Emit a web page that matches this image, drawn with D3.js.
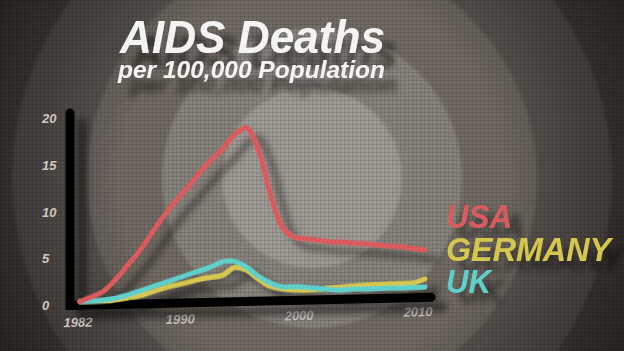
<!DOCTYPE html>
<html>
<head>
<meta charset="utf-8">
<script src="https://cdn.jsdelivr.net/npm/d3@7"></script>
<style>
  html, body { margin: 0; padding: 0; background: #2a2622; }
  svg { display: block; }
</style>
</head>
<body>
<div id="chart"></div>
<script>
// ---------- data ----------
const years = [1982, 1983, 1984, 1985, 1986, 1987, 1988, 1989, 1990, 1991,
               1992, 1993, 1994, 1995, 1996, 1997, 1998, 1999, 2000, 2001,
               2002, 2003, 2004, 2005, 2006, 2007, 2008, 2009, 2010, 2011];
const usa = [0.0, 0.5, 1.1, 2.3, 3.8, 5.3, 7.1, 8.9, 10.5, 11.9,
             13.4, 14.8, 16.0, 17.5, 18.2, 15.8, 11.1, 7.5, 6.4, 6.2,
             6.0, 5.8, 5.75, 5.6, 5.5, 5.35, 5.2, 5.1, 4.9, 4.7];
const germany = [0.0, 0.0, 0.02, 0.1, 0.3, 0.5, 0.87, 1.25, 1.55, 1.8,
                 2.1, 2.3, 2.5, 3.3, 3.0, 2.0, 1.2, 0.9, 0.74, 0.7,
                 0.74, 0.87, 0.94, 1.03, 1.1, 1.12, 1.14, 1.18, 1.2, 1.6];
const uk = [0.0, 0.05, 0.13, 0.3, 0.6, 1.0, 1.4, 1.8, 2.2, 2.6,
            3.0, 3.4, 3.95, 3.95, 3.3, 2.3, 1.55, 1.1, 1.1, 1.0,
            0.85, 0.7, 0.62, 0.7, 0.67, 0.7, 0.72, 0.7, 0.72, 0.74];
const seriesNames = ["USA", "GERMANY", "UK"];
const seriesColors = ["#db5a5d", "#d5c74d", "#5ecfcb"];
const yTicks = [0, 5, 10, 15, 20];
const xTicks = [1982, 1990, 2000, 2010];
const title = "AIDS Deaths";
const subtitle = "per 100,000 Population";

// ---------- setup ----------
const W = 624, H = 351;
const svg = d3.select("#chart").append("svg").attr("width", W).attr("height", H);
const defs = svg.append("defs");

// vignette gradient
const rg = defs.append("radialGradient").attr("id", "vig")
  .attr("cx", 312).attr("cy", 178).attr("r", 420).attr("gradientUnits", "userSpaceOnUse");
rg.append("stop").attr("offset", "0.45").attr("stop-color", "#000").attr("stop-opacity", 0);
rg.append("stop").attr("offset", "0.8").attr("stop-color", "#0a0604").attr("stop-opacity", 0.45);
rg.append("stop").attr("offset", "1").attr("stop-color", "#0a0604").attr("stop-opacity", 0.75);

// fine canvas texture
const pat = defs.append("pattern").attr("id", "tex").attr("width", 4).attr("height", 4)
  .attr("patternUnits", "userSpaceOnUse");
pat.append("rect").attr("width", 4).attr("height", 1).attr("fill", "rgba(0,0,0,0.10)");
pat.append("rect").attr("width", 1).attr("height", 4).attr("fill", "rgba(0,0,0,0.10)");

// soft edge blur for rings
defs.append("filter").attr("id", "soft").append("feGaussianBlur").attr("stdDeviation", 1.5);

// drop shadow
function shadowFilter(id, dx, dy, sd, op) {
  const f = defs.append("filter").attr("id", id)
    .attr("x", "-20%").attr("y", "-20%").attr("width", "150%").attr("height", "160%");
  f.append("feDropShadow").attr("dx", dx).attr("dy", dy).attr("stdDeviation", sd)
    .attr("flood-color", "#000").attr("flood-opacity", op);
}
shadowFilter("shChart", 12, 10, 3.5, 0.5);
shadowFilter("shTitle", 12, 15, 3, 0.55);
shadowFilter("shLegend", 12, 10, 3, 0.5);

// ---------- background ----------
const bg = svg.append("g");
bg.append("rect").attr("width", W).attr("height", H).attr("fill", "#48433e");
const rings = [
  { r: 300, c: "#5d5852" },
  { r: 225, c: "#706a64" },
  { r: 150, c: "#87827c" },
  { r: 90,  c: "#9e9993" }
];
bg.selectAll("circle.ring").data(rings).join("circle").attr("class", "ring")
  .attr("cx", 312).attr("cy", 178).attr("r", d => d.r).attr("fill", d => d.c)
  .attr("filter", "url(#soft)");
bg.append("rect").attr("width", W).attr("height", H).attr("fill", "url(#tex)");
bg.append("rect").attr("width", W).attr("height", H).attr("fill", "url(#vig)");

// ---------- scales ----------
const x = d3.scaleLinear().domain([1982, 2011]).range([80, 425]);
const y = d3.scaleLinear().domain([0, 20]).range([302, 115]);

// ---------- y tick labels ----------
svg.append("g").selectAll("text").data(yTicks).join("text")
  .attr("x", 42).attr("y", d => y(d) + 8)
  .attr("font-family", "Liberation Sans, Arial, sans-serif")
  .attr("font-weight", "bold").attr("font-style", "italic")
  .attr("font-size", 13).attr("fill", "#cdc8c2")
  .text(d => d);

// ---------- skewed chart group ----------
const chart = svg.append("g")
  .attr("transform", "translate(70,0) skewY(-1.3) translate(-70,0)");

// x tick labels
chart.append("g").selectAll("text").data(xTicks).join("text")
  .attr("x", d => x(d) + (d === 1982 ? -2 : 5)).attr("y", d => 327 - (x(d) - 80) * 0.008)
  .attr("text-anchor", "middle")
  .attr("font-family", "Liberation Sans, Arial, sans-serif")
  .attr("font-weight", "bold").attr("font-style", "italic")
  .attr("font-size", 13).attr("fill", "#cdc8c2")
  .text(d => d);

const plot = chart.append("g").attr("filter", "url(#shChart)");

// axes (thick black bars)
plot.append("path")
  .attr("d", `M${x(1982) - 10},${y(20) - 2} L${x(1982) - 10},${y(0) + 3.5} L${x(2011) + 6},${y(0) + 3.5}`)
  .attr("fill", "none").attr("stroke", "#060606").attr("stroke-width", 9)
  .attr("stroke-linecap", "round").attr("stroke-linejoin", "miter");

// lines (drawn Germany, UK, USA so UK sits over Germany)
const line = d3.line().x((d, i) => x(years[i])).y(d => y(d)).curve(d3.curveCatmullRom.alpha(0.5));
const order = [1, 2, 0];
const allSeries = [usa, germany, uk];
plot.selectAll("path.series").data(order.map(i => ({ v: allSeries[i], i }))).join("path")
  .attr("class", "series")
  .attr("d", d => line(d.v))
  .attr("fill", "none")
  .attr("stroke", d => seriesColors[d.i])
  .attr("stroke-width", 5)
  .attr("stroke-linecap", "round").attr("stroke-linejoin", "round");

// ---------- legend ----------
const legend = svg.append("g").attr("filter", "url(#shLegend)");
const legendLen = [66, 165, 45];
legend.selectAll("text").data(seriesNames).join("text")
  .attr("x", 446).attr("y", (d, i) => 228 + i * 32.5)
  .attr("font-family", "Liberation Sans, Arial, sans-serif")
  .attr("font-weight", "bold").attr("font-style", "italic")
  .attr("font-size", 34).attr("fill", (d, i) => seriesColors[i])
  .attr("textLength", (d, i) => legendLen[i]).attr("lengthAdjust", "spacingAndGlyphs")
  .text(d => d);

// ---------- title ----------
const tg = svg.append("g").attr("filter", "url(#shTitle)");
tg.append("text").attr("x", 120).attr("y", 53)
  .attr("font-family", "Liberation Sans, Arial, sans-serif")
  .attr("font-weight", "bold").attr("font-style", "italic")
  .attr("font-size", 46).attr("fill", "#f4f4f2")
  .attr("textLength", 265).attr("lengthAdjust", "spacingAndGlyphs")
  .text(title);
tg.append("text").attr("x", 118).attr("y", 78)
  .attr("font-family", "Liberation Sans, Arial, sans-serif")
  .attr("font-weight", "bold").attr("font-style", "italic")
  .attr("font-size", 23).attr("fill", "#f4f4f2")
  .attr("textLength", 267).attr("lengthAdjust", "spacingAndGlyphs")
  .text(subtitle);
</script>
</body>
</html>
